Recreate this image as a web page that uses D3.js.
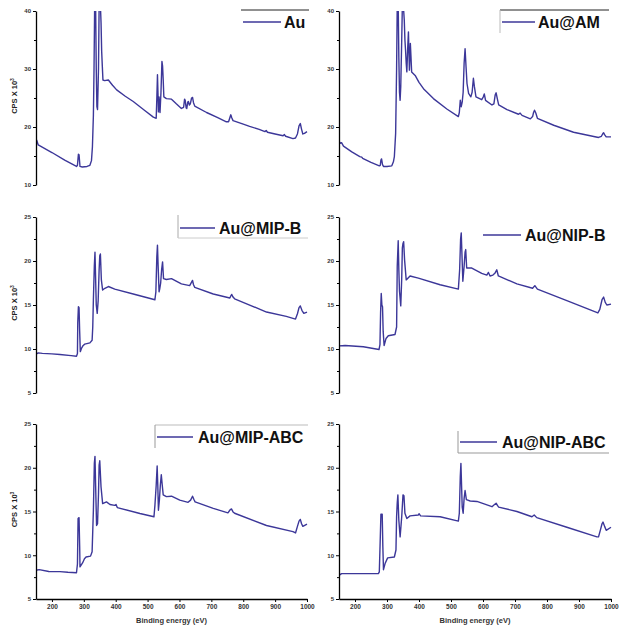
<!DOCTYPE html>
<html>
<head>
<meta charset="utf-8">
<script src="https://cdn.jsdelivr.net/npm/d3@7"></script>
<style>
body { margin: 0; background: #fff; }
svg { display: block; font-family: Arial, "Liberation Sans", sans-serif; }
.tick text { font-weight: bold; fill: #333; }
</style>
</head>
<body>
<script>
// legend labels, one per panel (row by row)
var labels = ["Au", "Au@AM", "Au@MIP-B", "Au@NIP-B", "Au@MIP-ABC", "Au@NIP-ABC"];

// tick values
var energyTicks = [200, 300, 400, 500, 600, 700, 800, 900, 1000];
var topTicks = [10, 20, 30, 40], topMinor = [15, 25, 35];
var lowTicks = [5, 10, 15, 20, 25], lowMinor = [7.5, 12.5, 17.5, 22.5];

// spectra: [binding energy (eV), CPS x 10^3]
var au = [[150,17.9],[153,17.6],[157,16.9],[200,15.6],[240,14.3],[277,13.2],[280,13.4],[283,15.3],[285,15.2],[288,13.2],[295,13.1],[310,13.2],[319,13.4],[324,14.2],[327,16.6],[330,22],[332,30],[334,41],[337,41],[339,30],[341,23.5],[343,23],[346,30],[348,41],[352,41],[354,38],[356,33],[358,30.5],[360,28.1],[365,28],[377,28.1],[390,27.2],[403,26.4],[430,25.3],[455,24.4],[490,22.9],[518,21.7],[527,21.5],[529,25],[531,29],[533,25],[534,22.6],[536,25.2],[538,23.5],[539,22.5],[542,26],[545,31.3],[547,30.5],[549,28.1],[551,25.2],[559,24.9],[575,24.8],[590,24],[606,23.2],[613,23.4],[616,24.8],[618,24.6],[621,23.3],[623,23.2],[626,24.3],[628,24.4],[631,23.8],[634,24],[638,25],[641,25.1],[644,24.2],[648,23.6],[685,22.5],[720,21.6],[747,20.9],[754,20.9],[758,21.6],[761,22.1],[764,21.6],[768,21.1],[800,20.5],[820,20.1],[850,19.6],[868,19.2],[872,19.4],[876,19.1],[900,18.8],[925,18.5],[929,18.7],[933,18.4],[956,18],[964,18.1],[970,18.8],[975,20.2],[979,20.6],[983,19.6],[987,18.8],[992,18.9],[1000,19.2]];

var auAm = [[150,17.5],[155,17.2],[158,17.3],[164,16.7],[190,15.7],[215,14.9],[221,14.8],[224,14.6],[250,13.9],[276,13.3],[279,13.4],[281,14.3],[283,14.5],[286,13.5],[289,13.2],[300,13.2],[315,13.3],[320,14],[323,14.9],[327,18.9],[330,30],[332,41],[335,41],[337,32],[339,26],[341,24.6],[343,27],[346,35],[348,41],[351,41],[354,38.4],[356,35],[358,33.2],[360,31],[362,29.5],[365,34],[367,36.4],[369,32],[370,29.8],[373,34.4],[375,32],[377,29.5],[388,28.9],[400,27.7],[414,26.6],[445,24.9],[487,23.1],[523,21.8],[526,22.5],[529,24.6],[532,23.5],[535,24.3],[538,26],[541,31],[544,33.5],[547,30.4],[550,27.5],[555,25.8],[562,25.2],[566,26],[570,28.4],[573,27],[578,25.2],[596,24.7],[601,25.2],[604,25.7],[608,24.6],[628,23.8],[634,24],[638,25.5],[641,25.9],[645,24.8],[649,23.8],[675,23],[711,22.2],[716,22.4],[722,22],[748,21.4],[755,21.8],[758,22.5],[761,22.9],[765,22.4],[770,21.5],[821,20.3],[883,19.1],[961,18.2],[970,18.4],[975,18.9],[977,19],[981,18.6],[985,18.3],[1000,18.3]];

var auMipB = [[150,9.4],[157,9.56],[170,9.5],[200,9.45],[225,9.37],[260,9.25],[277,9.18],[280,9.5],[281,13],[283,14.8],[285,14.7],[287,12],[289,9.7],[293,10.1],[298,10.4],[303,10.55],[319,10.7],[326,11],[328,12.5],[330,15.6],[333,19.5],[335,21],[337,18],[339,15],[342,14.05],[345,15.5],[348,19],[350,20.6],[352,20.8],[355,17.85],[359,16.7],[366,16.9],[377,17.1],[397,16.8],[455,16.25],[523,15.6],[526,16.5],[529,20.5],[531,21.8],[533,19.5],[536,16.5],[538,16.8],[541,17.5],[544,19],[547,19.9],[550,18],[559,17.9],[575,18],[606,17.4],[632,17.2],[638,17.6],[641,17.8],[644,17.3],[648,17],[706,16.25],[758,15.8],[762,16.1],[764,16.2],[768,15.9],[773,15.7],[873,14.2],[935,13.7],[964,13.4],[970,14],[975,14.7],[979,14.9],[984,14.4],[990,14.05],[1000,14.2]];

var auNipB = [[150,10.36],[169,10.4],[226,10.25],[275,9.94],[278,10.5],[280,14.2],[282,16.3],[284,15],[286,14.8],[288,12],[291,10.4],[297,11.2],[304,11.5],[325,11.65],[330,12.5],[332,19.4],[335,22.3],[337,19],[339,16.6],[343,14.9],[346,18],[348,21.5],[350,22],[352,22.2],[355,20.1],[360,17.85],[372,18.3],[398,18.05],[466,17.3],[523,16.8],[527,19],[530,22.5],[532,23.2],[534,21],[537,17.7],[541,19.4],[544,21],[546,21.3],[549,19.2],[565,19.2],[596,18.6],[612,18.4],[617,18.7],[622,18.3],[631,18.4],[637,18.6],[643,19],[648,18.3],[706,17.4],[755,16.9],[762,17.2],[770,16.8],[862,15.5],[959,14.1],[965,14.5],[972,15.6],[977,15.9],[982,15.3],[987,15],[1000,15.1]];

var auMipAbc = [[150,8.28],[160,8.36],[190,8.15],[225,8.13],[250,8.05],[277,8],[280,9],[282,14.2],[285,14.3],[287,11],[288,8.67],[296,9.12],[302,9.6],[307,9.8],[321,9.9],[326,10.4],[330,15.15],[333,20.5],[335,21.3],[337,18],[340,13.4],[343,13.6],[346,17],[348,20.3],[350,20.8],[354,17.8],[359,15.9],[371,16.1],[382,15.8],[397,15.7],[401,15.8],[405,15.45],[476,14.77],[520,14.4],[523,15.7],[527,18],[530,20.2],[532,18],[534,15.15],[537,16.3],[540,18],[543,19.2],[546,18],[549,16.9],[559,16.7],[575,16.75],[601,16.3],[627,16.05],[635,16.3],[641,16.75],[645,16.4],[649,16.1],[706,15.35],[752,14.85],[759,15.2],[763,15.3],[768,14.95],[773,14.8],[873,13.4],[956,12.7],[964,12.55],[970,13.3],[975,13.9],[979,14.1],[983,13.6],[987,13.3],[1000,13.55]];

var auNipAbc = [[150,7.7],[158,7.9],[195,7.9],[273,7.9],[276,8.1],[279,12],[281,14.7],[285,14.7],[287,11],[289,8.35],[294,9.05],[302,9.7],[323,9.8],[328,10.6],[330,14.4],[332,16],[334,16.9],[337,14],[341,12.1],[346,14.4],[350,16.9],[353,16.8],[356,14.8],[362,14.2],[372,14.5],[398,14.6],[400,14.75],[405,14.5],[466,14.4],[523,13.9],[526,14.8],[529,19],[531,20.5],[533,18],[535,15.5],[538,14.8],[541,16.5],[544,17.4],[548,16.35],[560,16.2],[581,16.15],[628,15.55],[636,15.8],[641,15.95],[645,15.7],[649,15.5],[706,15],[753,14.4],[760,14.6],[768,14.3],[862,13.2],[956,12.1],[961,12.1],[967,12.9],[972,13.6],[975,13.8],[980,13.3],[985,12.85],[1000,13.2]];

var series = [au, auAm, auMipB, auNipB, auMipAbc, auNipAbc];

// layout
var w = 619, h = 628;
var lineColor = "#3c3799";
var cols = [[36, 307], [339, 611]];
var rows = [
  {top: 11, bottom: 185, domain: [10, 40], major: topTicks, minor: topMinor},
  {top: 217, bottom: 393, domain: [5, 25], major: lowTicks, minor: lowMinor},
  {top: 424, bottom: 599, domain: [5, 25], major: lowTicks, minor: lowMinor}
];

// legend pieces: sample line [x0,x1,y], text position, partial frame segments
var legends = [
  {line: [243, 281, 22], tx: 284, ty: 27.5, frame: [[241, 10, 309, 10, "#222"]]},
  {line: [502, 535, 22], tx: 538, ty: 27.5, frame: [[500, 10, 609, 10, "#222"], [500, 10, 500, 33, "#bbb"]]},
  {line: [180, 215, 228], tx: 219, ty: 233.5, frame: [[178, 215, 178, 238, "#aaa"], [178, 238, 308, 238, "#ccc"]]},
  {line: [483, 521, 235], tx: 525, ty: 241, frame: []},
  {line: [157, 193, 437], tx: 198, ty: 443, frame: [[155, 425, 308, 425, "#bbb"], [155, 425, 155, 448, "#999"]]},
  {line: [460, 497, 442], tx: 502, ty: 447.5, frame: [[458, 431, 458, 453, "#999"], [458, 453, 609, 453, "#999"]]}
];

var svg = d3.select("body")
  .append("svg")
  .attr("width", w)
  .attr("height", h);

var defs = svg.append("defs");

series.forEach(function(data, i) {
  var c = cols[i % 2];
  var r = rows[Math.floor(i / 2)];

  var xScale = d3.scaleLinear().domain([150, 1000]).range([c[0], c[1]]);
  var yScale = d3.scaleLinear().domain(r.domain).range([r.bottom, r.top]);

  //clip so the saturated Au 4d peaks are cut at the top
  defs.append("clipPath")
    .attr("id", "clip" + i)
    .append("rect")
    .attr("x", c[0])
    .attr("y", r.top)
    .attr("width", c[1] - c[0] + 2)
    .attr("height", r.bottom - r.top);

  var line = d3.line()
    .x(function(d) { return xScale(d[0]); })
    .y(function(d) { return yScale(d[1]); });

  svg.append("path")
    .datum(data)
    .attr("clip-path", "url(#clip" + i + ")")
    .attr("fill", "none")
    .attr("stroke", lineColor)
    .attr("stroke-width", 1.4)
    .attr("stroke-linejoin", "round")
    .attr("d", line);

  //Y axis, major + minor ticks
  var yAxis = d3.axisLeft(yScale)
    .tickValues(r.major)
    .tickSize(3)
    .tickSizeOuter(0)
    .tickPadding(2)
    .tickFormat(d3.format("d"));

  var gy = svg.append("g")
    .attr("transform", "translate(" + c[0] + ",0)")
    .call(yAxis);
  gy.selectAll("text").attr("font-size", 6);
  gy.select(".domain").attr("stroke-width", 1.3);

  svg.append("g")
    .attr("transform", "translate(" + c[0] + ",0)")
    .call(d3.axisLeft(yScale).tickValues(r.minor).tickSize(2).tickFormat(""))
    .select(".domain").remove();

  if (i % 2 === 0) {
    var t = svg.append("text")
      .attr("transform", "translate(17," + ((r.top + r.bottom) / 2 - 2) + ") rotate(-90)")
      .attr("text-anchor", "middle")
      .attr("font-size", 7.5)
      .attr("font-weight", "bold")
      .attr("fill", "#222")
      .text("CPS X 10");
    t.append("tspan")
      .attr("dy", -3)
      .attr("font-size", 5)
      .text("3");
  }

  //X axis on bottom row only
  if (Math.floor(i / 2) === 2) {
    var gx = svg.append("g")
      .attr("transform", "translate(0," + r.bottom + ")")
      .call(d3.axisBottom(xScale)
        .tickValues(energyTicks)
        .tickSize(3)
        .tickSizeOuter(0)
        .tickPadding(2)
        .tickFormat(d3.format("d")));
    gx.selectAll("text").attr("font-size", 6.5);
    gx.select(".domain").attr("stroke-width", 1.3);

    svg.append("text")
      .attr("x", (c[0] + c[1]) / 2)
      .attr("y", 623)
      .attr("text-anchor", "middle")
      .attr("font-size", 7.5)
      .attr("font-weight", "bold")
      .attr("fill", "#333")
      .text("Binding energy (eV)");
  }

  //legend
  var lg = legends[i];
  lg.frame.forEach(function(f) {
    svg.append("line")
      .attr("x1", f[0]).attr("y1", f[1])
      .attr("x2", f[2]).attr("y2", f[3])
      .attr("stroke", f[4])
      .attr("stroke-width", 1);
  });
  svg.append("line")
    .attr("x1", lg.line[0]).attr("x2", lg.line[1])
    .attr("y1", lg.line[2]).attr("y2", lg.line[2])
    .attr("stroke", lineColor)
    .attr("stroke-width", 1.5);
  svg.append("text")
    .attr("x", lg.tx)
    .attr("y", lg.ty)
    .attr("font-size", 16)
    .attr("font-weight", "bold")
    .attr("fill", "#111")
    .text(labels[i]);
});
</script>
</body>
</html>
